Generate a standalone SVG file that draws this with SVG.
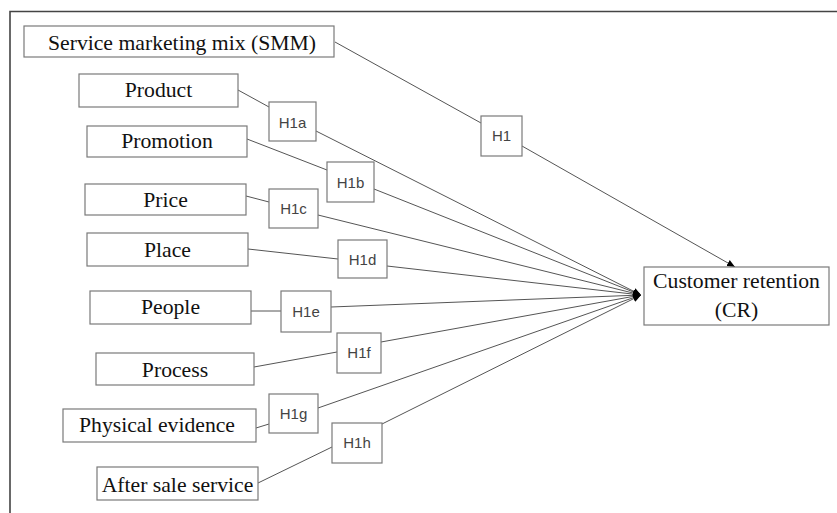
<svg xmlns="http://www.w3.org/2000/svg" width="837" height="513" viewBox="0 0 837 513">
<defs>
<marker id="arr" markerUnits="userSpaceOnUse" markerWidth="10" markerHeight="8" refX="8" refY="4" orient="auto">
<path d="M0,0.5 L8,4 L0,7.5 Z" fill="#000"/>
</marker>
</defs>
<style>
.box{fill:#fff;stroke:#7a7a7a;stroke-width:1.2}
.hbox{fill:#fff;stroke:#7a7a7a;stroke-width:1.2}
.t{font-family:"Liberation Serif","Times New Roman",serif;font-size:21.7px;fill:#111;text-anchor:middle}
.h{font-family:"Liberation Sans",Arial,sans-serif;font-size:15px;fill:#444;text-anchor:middle}
.c{fill:none;stroke:#555;stroke-width:1}
.frame{fill:none;stroke:#444;stroke-width:1.6}
</style>
<rect width="837" height="513" fill="#fff"/>
<path class="frame" d="M10,513 V11.5 H837"/>
<g id="connectors">
<line class="c" x1="335" y1="42" x2="481" y2="123"/>
<line class="c" x1="522" y1="146" x2="735" y2="267" marker-end="url(#arr)"/>
<line class="c" x1="238" y1="90" x2="269" y2="107"/>
<line class="c" x1="316" y1="131" x2="641" y2="295" marker-end="url(#arr)"/>
<line class="c" x1="247" y1="139" x2="327" y2="170"/>
<line class="c" x1="374" y1="189" x2="641" y2="295" marker-end="url(#arr)"/>
<line class="c" x1="246" y1="196" x2="269" y2="202"/>
<line class="c" x1="318" y1="215" x2="641" y2="295" marker-end="url(#arr)"/>
<line class="c" x1="248" y1="249" x2="338" y2="259"/>
<line class="c" x1="387" y1="266" x2="641" y2="295" marker-end="url(#arr)"/>
<line class="c" x1="251" y1="311" x2="281" y2="311"/>
<line class="c" x1="331" y1="307" x2="641" y2="295" marker-end="url(#arr)"/>
<line class="c" x1="254" y1="367" x2="337" y2="352"/>
<line class="c" x1="381" y1="342" x2="641" y2="295" marker-end="url(#arr)"/>
<line class="c" x1="256" y1="428" x2="269" y2="424"/>
<line class="c" x1="318" y1="408" x2="641" y2="295" marker-end="url(#arr)"/>
<line class="c" x1="258" y1="483" x2="332" y2="447"/>
<line class="c" x1="382" y1="424" x2="641" y2="295" marker-end="url(#arr)"/>
</g>
<g id="smm"><rect class="box" x="24" y="26" width="310" height="31"/><text class="t" x="182" y="49.5">Service marketing mix (SMM)</text></g>
<g id="product"><rect class="box" x="79" y="74" width="159" height="33"/><text class="t" x="158.5" y="97">Product</text></g>
<g id="promotion"><rect class="box" x="87" y="126" width="160" height="31"/><text class="t" x="167" y="148">Promotion</text></g>
<g id="price"><rect class="box" x="85" y="184" width="161" height="31"/><text class="t" x="165.5" y="207">Price</text></g>
<g id="place"><rect class="box" x="87" y="233" width="161" height="33"/><text class="t" x="167.5" y="257">Place</text></g>
<g id="people"><rect class="box" x="90" y="291" width="161" height="33"/><text class="t" x="170.5" y="314">People</text></g>
<g id="process"><rect class="box" x="96" y="353" width="158" height="32"/><text class="t" x="175" y="377">Process</text></g>
<g id="physical"><rect class="box" x="63" y="409" width="193" height="33"/><text class="t" x="157" y="432">Physical evidence</text></g>
<g id="aftersale"><rect class="box" x="97" y="467" width="161" height="33"/><text class="t" x="177.5" y="492">After sale service</text></g>
<g id="cr"><rect class="box" x="644" y="267" width="185" height="58"/><text class="t" x="736.5" y="288">Customer retention</text><text class="t" x="736.5" y="317">(CR)</text></g>
<g id="h1"><rect class="hbox" x="481" y="116" width="41" height="40"/><text class="h" x="501.5" y="141">H1</text></g>
<g id="h1a"><rect class="hbox" x="269" y="102" width="47" height="39"/><text class="h" x="292.5" y="128">H1a</text></g>
<g id="h1b"><rect class="hbox" x="327" y="162" width="47" height="40"/><text class="h" x="350.5" y="188">H1b</text></g>
<g id="h1c"><rect class="hbox" x="269" y="189" width="49" height="39"/><text class="h" x="293.5" y="214">H1c</text></g>
<g id="h1d"><rect class="hbox" x="338" y="240" width="49" height="38"/><text class="h" x="362.5" y="265">H1d</text></g>
<g id="h1e"><rect class="hbox" x="281" y="291" width="50" height="41"/><text class="h" x="306" y="317">H1e</text></g>
<g id="h1f"><rect class="hbox" x="337" y="333" width="44" height="40"/><text class="h" x="359" y="358">H1f</text></g>
<g id="h1g"><rect class="hbox" x="269" y="394" width="49" height="39"/><text class="h" x="293.5" y="419">H1g</text></g>
<g id="h1h"><rect class="hbox" x="332" y="423" width="50" height="40"/><text class="h" x="357" y="448">H1h</text></g>
</svg>
